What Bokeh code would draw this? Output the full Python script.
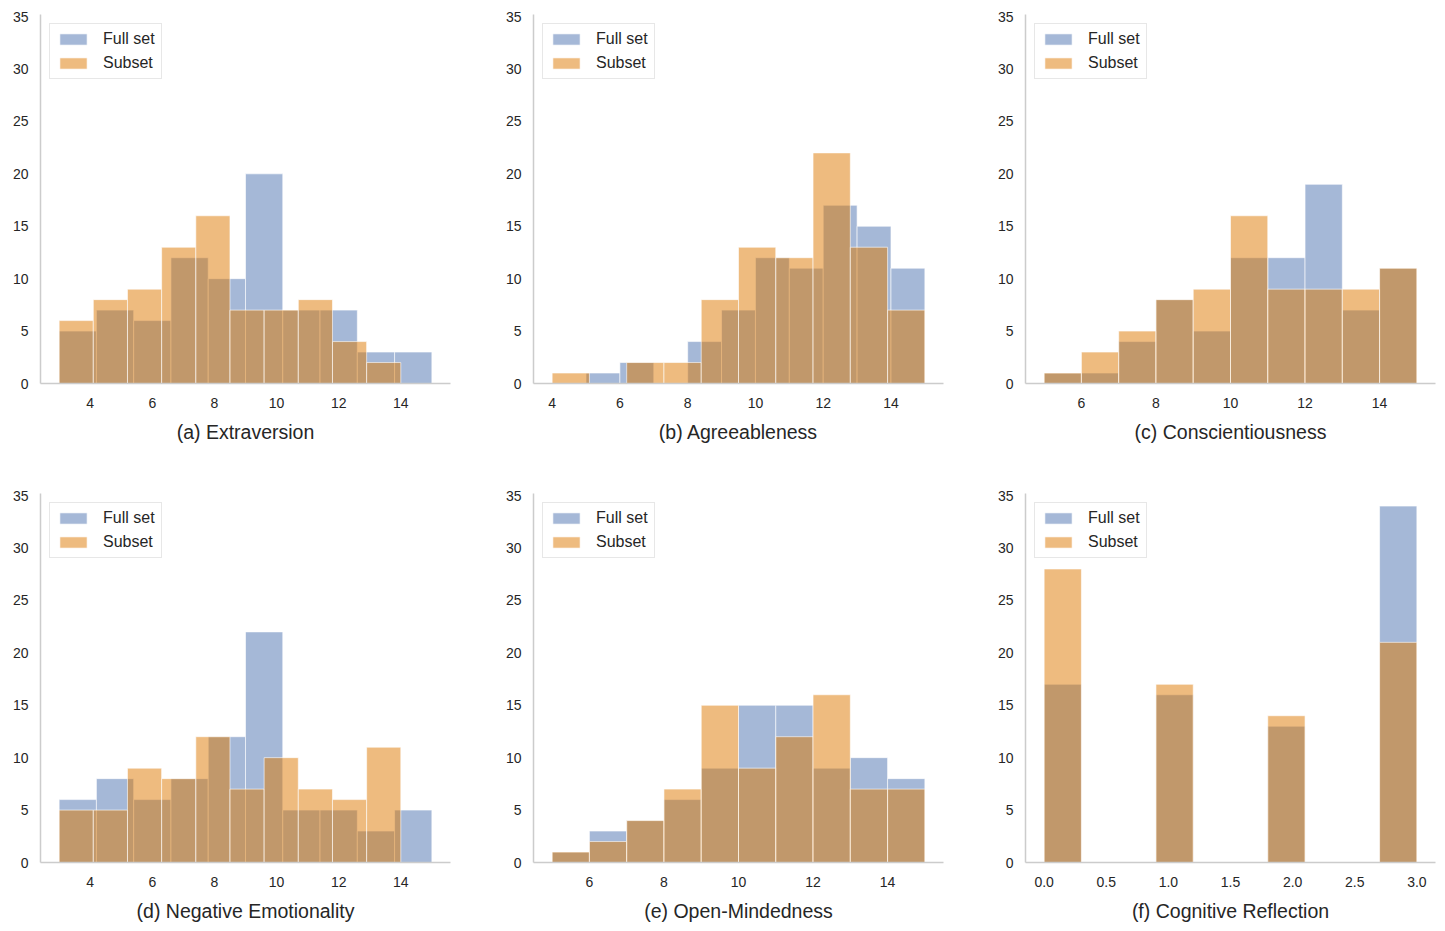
import numpy as np
from bokeh.plotting import figure
from bokeh.models import Range1d, FixedTicker, Legend, LegendItem, PrintfTickFormatter
from bokeh.layouts import row, column
from bokeh.embed import file_html
from bokeh.resources import INLINE

titles = ["(a) Extraversion", "(b) Agreeableness", "(c) Conscientiousness",
          "(d) Negative Emotionality", "(e) Open-Mindedness", "(f) Cognitive Reflection"]

# histogram counts (10 bins each) and the data range the bins span
full_a = [5, 7, 6, 12, 10, 20, 7, 7, 3, 3]
sub_a = [6, 8, 9, 13, 16, 7, 7, 8, 4, 2]
full_range_a = (3, 15)
sub_range_a = (3, 14)

full_b = [1, 2, 0, 4, 7, 12, 11, 17, 15, 11]
sub_b = [1, 0, 2, 2, 8, 13, 12, 22, 13, 7]
full_range_b = (5, 15)
sub_range_b = (4, 15)

full_c = [1, 1, 4, 8, 5, 12, 12, 19, 7, 11]
sub_c = [1, 3, 5, 8, 9, 16, 9, 9, 9, 11]
full_range_c = (5, 15)
sub_range_c = (5, 15)

full_d = [6, 8, 6, 8, 12, 22, 5, 5, 3, 5]
sub_d = [5, 5, 9, 8, 12, 7, 10, 7, 6, 11]
full_range_d = (3, 15)
sub_range_d = (3, 14)

full_e = [1, 3, 4, 6, 9, 15, 15, 9, 10, 8]
sub_e = [1, 2, 4, 7, 15, 9, 12, 16, 7, 7]
full_range_e = (5, 15)
sub_range_e = (5, 15)

full_f = [17, 0, 0, 16, 0, 0, 13, 0, 0, 34]
sub_f = [28, 0, 0, 17, 0, 0, 14, 0, 0, 21]
full_range_f = (0, 3)
sub_range_f = (0, 3)

x_ticks_int = [4, 6, 8, 10, 12, 14]
x_ticks_int2 = [6, 8, 10, 12, 14]
x_ticks_f = [0.0, 0.5, 1.0, 1.5, 2.0, 2.5, 3.0]
y_ticks = [0, 5, 10, 15, 20, 25, 30, 35]

panels = [
    (titles[0], full_a, full_range_a, sub_a, sub_range_a, x_ticks_int),
    (titles[1], full_b, full_range_b, sub_b, sub_range_b, x_ticks_int),
    (titles[2], full_c, full_range_c, sub_c, sub_range_c, x_ticks_int2),
    (titles[3], full_d, full_range_d, sub_d, sub_range_d, x_ticks_int),
    (titles[4], full_e, full_range_e, sub_e, sub_range_e, x_ticks_int2),
    (titles[5], full_f, full_range_f, sub_f, sub_range_f, x_ticks_f),
]

BLUE = "#4c72b0"
ORANGE = "#dd7700"
FONT = "Liberation Sans"
TXT = "#262626"
AX = "#cccccc"

# borders per column / row so the frames land where the reference has them
col_borders = [(40, 41), (42, 40), (42, 5)]
row_borders = [(14, 104), (6, 66)]
FW, FH = 410, 369


def make_panel(i, title, full, frange, sub, srange, ticks):
    c = i % 3
    r = i // 3
    bl, br = col_borders[c]
    bt, bb = row_borders[r]
    lo = min(frange[0], srange[0])
    hi = max(frange[1], srange[1])
    span = hi - lo
    p = figure(width=bl + FW + br, height=bt + FH + bb,
               x_range=Range1d(lo - 0.05 * span, hi + 0.05 * span),
               y_range=Range1d(0, 35.2),
               output_backend="svg", toolbar_location=None,
               min_border_left=bl, min_border_right=br,
               min_border_top=bt, min_border_bottom=bb)
    p.outline_line_color = None
    p.xgrid.visible = False
    p.ygrid.visible = False

    renderers = []
    for counts, rng, color in ((full, frange, BLUE), (sub, srange, ORANGE)):
        edges = np.linspace(rng[0], rng[1], len(counts) + 1)
        cnt = np.array(counts, dtype=float)
        keep = cnt > 0
        rr = p.quad(left=edges[:-1][keep], right=edges[1:][keep], bottom=0, top=cnt[keep],
                    fill_color=color, fill_alpha=0.5,
                    line_color="white", line_alpha=0.6, line_width=1)
        renderers.append(rr)

    leg = Legend(items=[LegendItem(label="Full set", renderers=[renderers[0]]),
                        LegendItem(label="Subset", renderers=[renderers[1]])],
                 location="top_left")
    leg.margin = 9
    leg.padding = 6
    leg.spacing = 6
    leg.glyph_width = 34
    leg.glyph_height = 14
    leg.label_height = 18
    leg.label_standoff = 13
    leg.label_text_font = FONT
    leg.label_text_font_size = "16px"
    leg.label_text_color = TXT
    leg.border_line_color = "#d0d0d0"
    leg.border_line_width = 1
    leg.background_fill_alpha = 0.8
    p.add_layout(leg)

    for ax in (p.xaxis[0], p.yaxis[0]):
        ax.axis_line_color = AX
        ax.axis_line_width = 1.5
        ax.major_tick_line_color = None
        ax.minor_tick_line_color = None
        ax.major_label_text_font = FONT
        ax.major_label_text_font_size = "14px"
        ax.major_label_text_color = TXT
    p.xaxis.ticker = FixedTicker(ticks=ticks)
    p.yaxis.ticker = FixedTicker(ticks=y_ticks)
    if i == 5:
        p.xaxis.formatter = PrintfTickFormatter(format="%.1f")
    p.xaxis.major_label_standoff = 8
    p.yaxis.major_label_standoff = 6
    p.xaxis.axis_label = title
    p.xaxis.axis_label_text_font = FONT
    p.xaxis.axis_label_text_font_size = "19.5px"
    p.xaxis.axis_label_text_font_style = "normal"
    p.xaxis.axis_label_text_color = TXT
    p.xaxis.axis_label_standoff = 10
    return p


figs = [make_panel(i, *panels[i]) for i in range(6)]
layout = column(row(*figs[:3], spacing=0), row(*figs[3:], spacing=0), spacing=0)

open("out.html", "w").write(file_html(layout, INLINE))
